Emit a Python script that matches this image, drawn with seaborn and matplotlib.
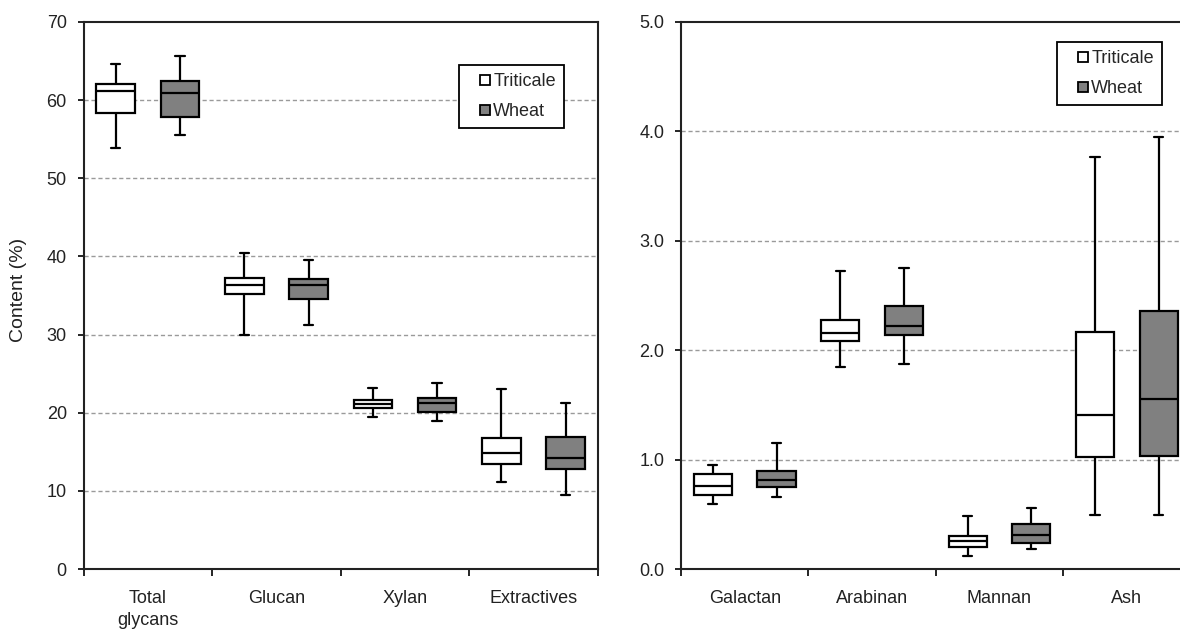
import numpy as np
import pandas as pd
import matplotlib
matplotlib.use("Agg")
import matplotlib.pyplot as plt
from matplotlib.lines import Line2D
import seaborn as sns

# ---- data: [whisker low, Q1, median, Q3, whisker high] ----
left_categories = ["Total\nglycans", "Glucan", "Xylan", "Extractives"]
left_triticale = [[53.9, 58.3, 61.2, 62.1, 64.6],
                  [30.0, 35.2, 36.4, 37.3, 40.4],
                  [19.4, 20.6, 21.1, 21.6, 23.2],
                  [11.1, 13.5, 14.9, 16.8, 23.0]]
left_wheat = [[55.5, 57.9, 60.9, 62.5, 65.7],
              [31.2, 34.5, 36.3, 37.1, 39.6],
              [19.0, 20.1, 21.3, 21.9, 23.8],
              [9.5, 12.8, 14.2, 16.9, 21.3]]

right_categories = ["Galactan", "Arabinan", "Mannan", "Ash"]
right_triticale = [[0.59, 0.68, 0.76, 0.87, 0.95],
                   [1.85, 2.08, 2.16, 2.28, 2.72],
                   [0.12, 0.205, 0.26, 0.30, 0.48],
                   [0.49, 1.02, 1.41, 2.17, 3.77]]
right_wheat = [[0.66, 0.75, 0.81, 0.90, 1.15],
               [1.87, 2.14, 2.22, 2.40, 2.75],
               [0.18, 0.235, 0.31, 0.41, 0.56],
               [0.49, 1.03, 1.55, 2.36, 3.95]]

groups = ["Triticale", "Wheat"]
left_ticks = [0, 10, 20, 30, 40, 50, 60, 70]
right_ticks = [0.0, 1.0, 2.0, 3.0, 4.0, 5.0]
ylabel = "Content (%)"

palette = {"Triticale": "#ffffff", "Wheat": "#808080"}


def to_long(categories, tri, wht):
    rows = []
    for cat, t, w in zip(categories, tri, wht):
        for v in t:
            rows.append((cat, "Triticale", v))
        for v in w:
            rows.append((cat, "Wheat", v))
    return pd.DataFrame(rows, columns=["component", "cultivar", "value"])


sns.set_theme(style="white")
plt.rcParams["font.family"] = ["Liberation Sans", "DejaVu Sans"]
plt.rcParams["font.size"] = 13

fig = plt.figure(figsize=(11.8, 6.33), dpi=100)
W, H = 1180, 633
ax1 = fig.add_axes([83.5 / W, 1 - 569 / H, (597.8 - 83.5) / W, (569 - 22) / H])
ax2 = fig.add_axes([681 / W, 1 - 569 / H, (1190.6 - 681) / W, (569 - 22) / H])


def draw(ax, categories, tri, wht, ticks, fmt, legend_pos):
    df = to_long(categories, tri, wht)
    sns.boxplot(data=df, x="component", y="value", hue="cultivar",
                order=categories, hue_order=groups, palette=palette,
                whis=(0, 100), width=1.0, gap=0.4, linecolor="black",
                linewidth=1.6, fliersize=0, legend=False, ax=ax, zorder=3)
    # short caps
    for c in ax.containers:
        for cap in getattr(c, "caps", []):
            xd = np.asarray(cap.get_xdata(), dtype=float)
            m = xd.mean()
            cap.set_xdata([m - 0.036, m + 0.036])
    ax.set_xlim(-0.5, 3.5)
    ax.set_ylim(ticks[0], ticks[-1])
    ax.set_yticks(ticks)
    ax.set_yticklabels([fmt.format(t) for t in ticks])
    ax.set_xticks(np.arange(-0.5, 4.0, 1.0))
    ax.set_xticklabels([])
    ax.set_xticks(np.arange(4), minor=True)
    ax.set_xticklabels(categories, minor=True, linespacing=1.4)
    ax.tick_params(axis="x", which="major", length=5, width=1.2,
                   direction="out", color="black", bottom=True)
    ax.tick_params(axis="x", which="minor", length=0, pad=15,
                   labelsize=13, labelcolor="#222222")
    ax.tick_params(axis="y", length=4, width=1.2, direction="out",
                   color="black", left=True, pad=8, labelsize=13,
                   labelcolor="#222222")
    for t in ticks[1:-1]:
        ax.axhline(t, color="#9a9a9a", lw=1.0, ls=(0, (3, 2)), zorder=1)
    for s in ax.spines.values():
        s.set_color("#222222")
        s.set_linewidth(1.5)
        s.set_visible(True)
    ax.set_xlabel("")
    ax.set_ylabel("")
    handles = [Line2D([], [], ls="none", marker="s", markersize=6.5,
                      markerfacecolor=palette[g], markeredgecolor="black",
                      markeredgewidth=1.3, label=g) for g in groups]
    leg = ax.legend(handles=handles, loc="upper left",
                    bbox_to_anchor=legend_pos, bbox_transform=fig.transFigure,
                    frameon=True, fancybox=False, edgecolor="black",
                    framealpha=1, handlelength=2.0, handletextpad=-0.55,
                    labelspacing=0.72, borderpad=0.45, borderaxespad=0,
                    fontsize=13)
    leg.get_frame().set_linewidth(1.3)


draw(ax1, left_categories, left_triticale, left_wheat, left_ticks, "{:.0f}",
     (459 / W, 1 - 65 / H))
draw(ax2, right_categories, right_triticale, right_wheat, right_ticks, "{:.1f}",
     (1057 / W, 1 - 42 / H))

fig.text(19 / W, 1 - 290 / H, ylabel, rotation=90, ha="center", va="center",
         fontsize=14, color="#222222")

fig.savefig("out.png", dpi=100)
